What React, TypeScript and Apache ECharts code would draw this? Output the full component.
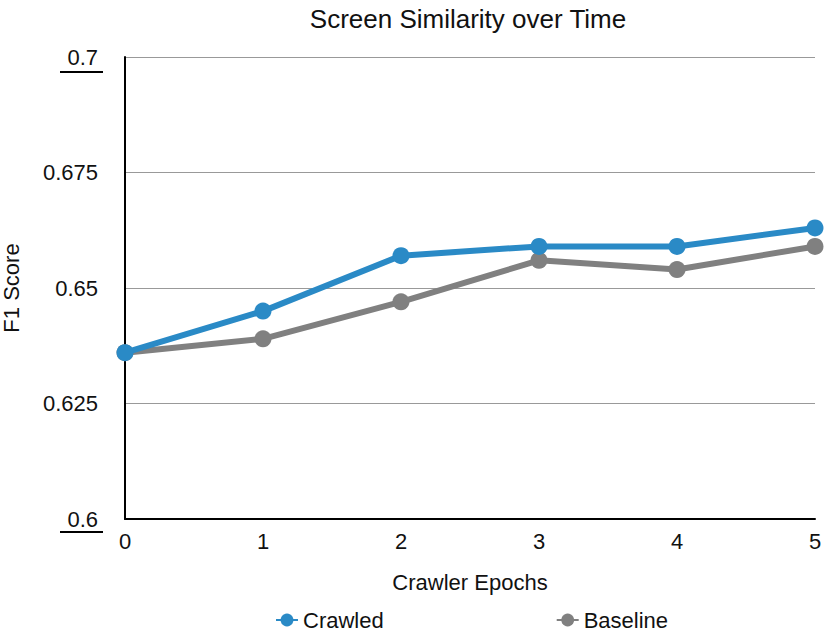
import React, { useEffect, useRef } from "react";
import * as echarts from "echarts";

const epochs = [0, 1, 2, 3, 4, 5];
const crawled = [0.636, 0.645, 0.657, 0.659, 0.659, 0.663];
const baseline = [0.636, 0.639, 0.647, 0.656, 0.654, 0.659];
const yTicks = [0.6, 0.625, 0.65, 0.675, 0.7];

const FONT = "'Liberation Sans', Arial, Helvetica, sans-serif";

export default function App() {
  const ref = useRef<HTMLDivElement>(null);
  useEffect(() => {
    if (!ref.current) return;
    const chart = echarts.init(ref.current, undefined, { renderer: "svg" });
    chart.setOption({
      animation: false,
      textStyle: { fontFamily: FONT },
      title: {
        text: "Screen Similarity over Time",
        left: 463,
        textAlign: "center",
        top: 1,
        textStyle: { fontSize: 26, fontWeight: "normal", color: "#111", fontFamily: FONT },
      },
      legend: {
        top: 604,
        left: 270,
        itemGap: 172,
        itemWidth: 22,
        itemHeight: 16,
        textStyle: { fontSize: 22, color: "#111", fontFamily: FONT },
        data: ["Crawled", "Baseline"],
      },
      grid: { left: 125, right: 15, top: 57, bottom: 116, containLabel: false, outerBoundsMode: "none" },
      xAxis: {
        type: "value",
        min: 0,
        max: 5,
        interval: 1,
        name: "Crawler Epochs",
        nameLocation: "middle",
        nameGap: 52,
        nameTextStyle: { fontSize: 22, color: "#111", fontFamily: FONT },
        axisLine: { show: true, lineStyle: { color: "#000", width: 2 } },
        axisTick: { show: false },
        splitLine: { show: false },
        axisLabel: {
          fontSize: 22,
          color: "#111",
          margin: 11,
          formatter: (v: number) => String(v),
          fontFamily: FONT,
        },
      },
      yAxis: {
        type: "value",
        min: 0.6,
        max: 0.7,
        interval: 0.025,
        name: "F1 Score",
        nameLocation: "middle",
        nameGap: 103,
        nameTextStyle: { fontSize: 22, color: "#111", fontFamily: FONT },
        axisLine: { show: true, lineStyle: { color: "#000", width: 2 } },
        axisTick: { show: false },
        splitLine: { show: true, lineStyle: { color: "#999", width: 1 } },
        axisLabel: {
          fontSize: 22,
          color: "#111",
          margin: 27,
          fontFamily: FONT,
          formatter: (v: number) => {
            const r = Math.round(v * 1000) / 1000;
            const found = yTicks.find((t) => Math.abs(t - r) < 1e-9);
            return String(found !== undefined ? found : r);
          },
        },
      },
      graphic: [
        { type: "line", shape: { x1: 60, y1: 72, x2: 103, y2: 72 }, style: { stroke: "#000", lineWidth: 2 } },
        { type: "line", shape: { x1: 60, y1: 532, x2: 103, y2: 532 }, style: { stroke: "#000", lineWidth: 2 } },
      ],
      series: [
        {
          name: "Baseline",
          type: "line",
          data: epochs.map((e, i) => [e, baseline[i]]),
          symbol: "circle",
          symbolSize: 17,
          lineStyle: { width: 6, color: "#808080" },
          itemStyle: { color: "#808080" },
          z: 2,
        },
        {
          name: "Crawled",
          type: "line",
          data: epochs.map((e, i) => [e, crawled[i]]),
          symbol: "circle",
          symbolSize: 17,
          lineStyle: { width: 6, color: "#2a8ac6" },
          itemStyle: { color: "#2a8ac6" },
          z: 3,
        },
      ],
    });
    return () => chart.dispose();
  }, []);
  return (
    <div
      ref={ref}
      style={{ position: "fixed", left: 0, top: 0, width: 830, height: 635, background: "#fff" }}
    />
  );
}
